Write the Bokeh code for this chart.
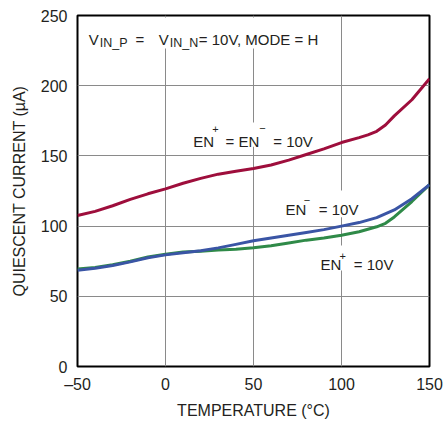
from bokeh.plotting import figure
from bokeh.models import Range1d, FixedTicker, Label, BoxAnnotation
from bokeh.embed import file_html
from bokeh.resources import INLINE

FONT = "Liberation Sans"

# ---- data ----
temp_en_both = [-50, -40, -30, -20, -10, 0, 10, 20, 30, 40, 50, 60, 70, 80, 90, 100, 110, 115, 120, 125, 130, 140, 150]
iq_en_both = [107.5, 110.5, 114.5, 119, 123, 126.5, 130.5, 134, 137, 139, 141, 143.5, 147, 151, 155, 159.5, 163, 165, 167.5, 172, 178.5, 190, 205]

temp_en_minus = [-50, -40, -30, -20, -10, 0, 10, 20, 30, 40, 50, 60, 70, 80, 90, 100, 110, 120, 130, 140, 150]
iq_en_minus = [68.5, 70, 72, 74.5, 77.5, 79.5, 81, 82.5, 84.5, 87, 89.5, 91.5, 93.5, 95.5, 97.5, 100, 102.5, 106, 111.5, 119.5, 129.5]

temp_en_plus = [-50, -40, -30, -20, -10, 0, 10, 20, 30, 40, 50, 60, 70, 80, 90, 100, 110, 120, 125, 130, 140, 150]
iq_en_plus = [69.5, 70.5, 72.5, 75, 78, 80, 81.5, 82, 83, 83.5, 84.5, 86, 88, 90, 91.5, 93.5, 96, 99.5, 102, 106.5, 117.5, 129.5]

x_ticks = [-50, 0, 50, 100, 150]
x_tick_labels = {-50: "\u201350", 0: "0", 50: "50", 100: "100", 150: "150"}
y_ticks = [0, 50, 100, 150, 200, 250]

RED = "#9E0E3C"
BLUE = "#3A55A5"
GREEN = "#2F8A48"

p = figure(frame_width=352, frame_height=351, x_range=Range1d(-50, 150), y_range=Range1d(0, 250),
           output_backend="svg", toolbar_location=None,
           min_border_left=77, min_border_right=14, min_border_top=15, min_border_bottom=55)

p.background_fill_color = "white"
p.border_fill_color = "white"
p.outline_line_color = "black"
p.outline_line_width = 2

for ax in (p.xaxis[0], p.yaxis[0]):
    ax.axis_line_color = None
    ax.major_tick_line_color = None
    ax.minor_tick_line_color = None
    ax.major_tick_out = 0
    ax.major_tick_in = 0
    ax.major_label_text_font = FONT
    ax.major_label_text_font_size = "16px"
    ax.major_label_text_color = "#231f20"
    ax.axis_label_text_font = FONT
    ax.axis_label_text_font_size = "16px"
    ax.axis_label_text_font_style = "normal"
    ax.axis_label_text_color = "#231f20"

p.xaxis.ticker = FixedTicker(ticks=x_ticks)
p.xaxis.major_label_overrides = x_tick_labels
p.yaxis.ticker = FixedTicker(ticks=y_ticks)
p.xaxis.major_label_standoff = 9
p.yaxis.major_label_standoff = 10
p.xaxis.axis_label = "TEMPERATURE (\u00b0C)"
p.yaxis.axis_label = "QUIESCENT CURRENT (\u00b5A)"
p.xaxis.axis_label_standoff = 6
p.yaxis.axis_label_standoff = 10

p.grid.grid_line_color = "#8a8a8a"
p.grid.grid_line_width = 1
p.xgrid.ticker = FixedTicker(ticks=x_ticks)
p.ygrid.ticker = FixedTicker(ticks=y_ticks)

# white boxes behind the annotations (they hide the grid lines)
for l, r, b, t in [(-48.3, 93.7, 226.5, 248.6), (13.1, 88.1, 156.5, 173.8),
                   (65.9, 111.9, 106.3, 125.4), (85.8, 133.5, 68.4, 86.2)]:
    p.add_layout(BoxAnnotation(left=l, right=r, bottom=b, top=t, fill_color="white",
                               fill_alpha=1, line_color=None, level="underlay"))

p.line(temp_en_both, iq_en_both, line_color=RED, line_width=3, line_join="round")
p.line(temp_en_plus, iq_en_plus, line_color=GREEN, line_width=3, line_join="round")
p.line(temp_en_minus, iq_en_minus, line_color=BLUE, line_width=3, line_join="round")


def lab(x, y, text, size, baseline="alphabetic"):
    p.add_layout(Label(x=x, y=y, text=text, text_font=FONT, text_font_size=size,
                       text_color="#231f20", text_baseline=baseline, text_align="left"))


# V_IN_P = V_IN_N = 10V, MODE = H
lab(-43.6, 232.9, "V", "15px")
lab(-37.3, 230.6, "IN_P", "12.5px")
lab(-17.0, 232.9, "=", "15px")
lab(-3.8, 232.9, "V", "15px")
lab(2.4, 230.6, "IN_N", "12.5px")
lab(18.9, 232.9, "= 10V, MODE = H", "15px")

# EN+ = EN- = 10V
lab(15.7, 160.5, "EN", "15px")
lab(26.5, 169.3, "+", "11px", "middle")
lab(34.1, 160.5, "= EN", "15px")
lab(53.2, 170.0, "\u2212", "11px", "middle")
lab(61.2, 160.5, "= 10V", "15px")

# EN- = 10V
lab(68.2, 111.8, "EN", "15px")
lab(78.6, 118.9, "\u2212", "11px", "middle")
lab(87.1, 111.8, "= 10V", "15px")

# EN+ = 10V
lab(88.1, 72.4, "EN", "15px")
lab(98.9, 78.6, "+", "11px", "middle")
lab(107.0, 72.4, "= 10V", "15px")

open("out.html", "w").write(file_html(p, INLINE))
